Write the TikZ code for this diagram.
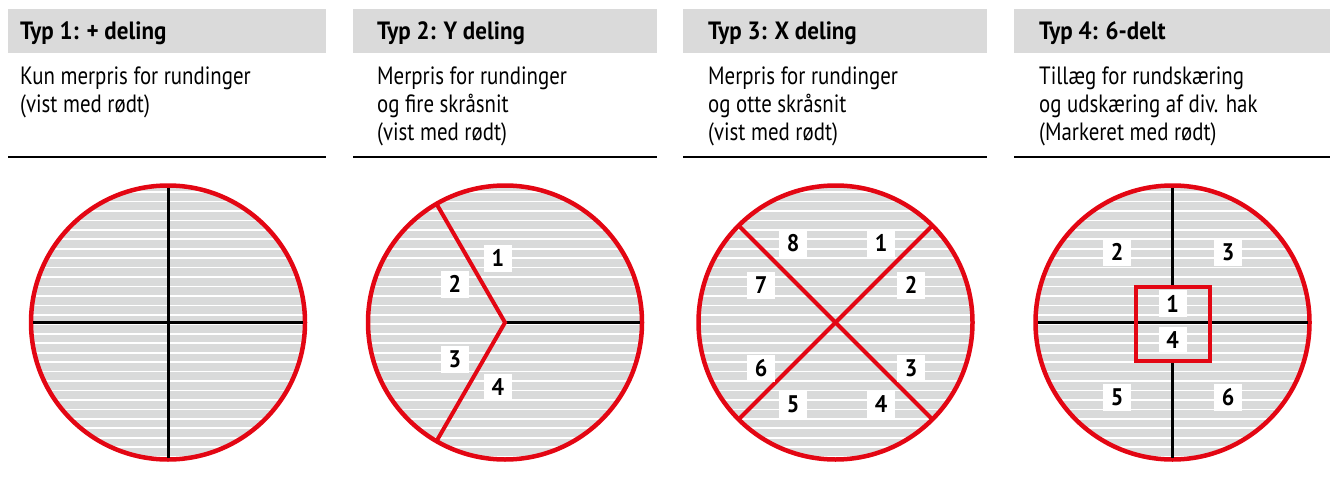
\documentclass[tikz,border=0pt]{standalone}
\usepackage{fontspec}
\setmainfont{PT Sans}[FakeStretch=0.835, BoldFeatures={FakeStretch=0.92}]
\usetikzlibrary{calc,positioning}
\definecolor{cutred}{HTML}{E30613}
\definecolor{headgray}{HTML}{DADADA}
\definecolor{discgray}{HTML}{D9DADA}
\tikzset{
  headbox/.style={fill=headgray},
  headtext/.style={anchor=base west, inner sep=0pt, font=\bfseries\fontsize{25}{28}\selectfont},
  desc/.style={anchor=north west, inner sep=0pt, align=left, font=\fontsize{25}{28}\selectfont},
  rule/.style={line width=1.7pt},
  disc/.style={circle, minimum size=274pt, inner sep=0pt, outer sep=0pt,
    fill=discgray, draw=cutred, line width=4.5pt,
    path picture={
      \foreach \k in {0,...,30}
        \draw[white, line width=1.7pt]
          ([yshift={(\k-15)*9.45pt-1.8pt}]path picture bounding box.west) --
          ([yshift={(\k-15)*9.45pt-1.8pt}]path picture bounding box.east);
    }},
  divline/.style={line width=3pt, shorten <=2pt, shorten >=2pt},
  cutline/.style={draw=cutred, line width=4pt},
  holebox/.style={minimum size=74pt, inner sep=0pt, outer sep=0pt},
  numbox/.style={fill=white, minimum width=28pt, minimum height=27pt, inner sep=0pt,
    font=\bfseries\fontsize{24}{24}\selectfont},
}

\begin{document}
\begin{tikzpicture}[x=1pt, y=-1pt]
  \useasboundingbox (0,0) rectangle (1330,484);

  % header bars and rules
  \fill[headbox] (8,9) rectangle (326,53);
  \fill[headbox] (353,9) rectangle (657,53);
  \fill[headbox] (683,9) rectangle (987,53);
  \fill[headbox] (1014,9) rectangle (1330,53);
  \draw[rule] (8,157) -- (326,157);
  \draw[rule] (353,157) -- (657,157);
  \draw[rule] (683,157) -- (987,157);
  \draw[rule] (1014,157) -- (1330,157);

  \node[headtext] (h1) at (20,39.5) {Typ 1: + deling};
  \node[headtext] (h2) at (377,39.5) {Typ 2: Y deling};
  \node[headtext] (h3) at (708,39.5) {Typ 3: X deling};
  \node[headtext] (h4) at (1039,39.5) {Typ 4: 6-delt};

  \node[desc] (d1) at (20,67) {Kun merpris for rundinger\\(vist med rødt)};
  \node[desc] (d2) at (377,67) {Merpris for rundinger\\og fire skråsnit\\(vist med rødt)};
  \node[desc] (d3) at (708,67) {Merpris for rundinger\\og otte skråsnit\\(vist med rødt)};
  \node[desc] (d4) at (1039,67) {Tillæg for rundskæring\\og udskæring af div. hak\\(Markeret med rødt)};

  % Typ 1
  \node[disc] (c1) at (168,322.5) {};
  \draw[divline] (c1.north) -- (c1.south);
  \draw[divline] (c1.west) -- (c1.east);

  % Typ 2
  \node[disc] (c2) at (505,322.5) {};
  \draw[divline, shorten <=0pt] (c2.center) -- (c2.east);
  \draw[cutline] (c2.120) -- (c2.center) -- (c2.240);
  \foreach \lbl/\dx/\dy in {1/-7/-64.5, 2/-50/-38.5, 3/-50/36.5, 4/-7/64.5}
    \node[numbox] (y\lbl) at ($(c2)+(\dx,\dy)$) {\lbl};

  % Typ 3
  \node[disc] (c3) at (835.5,322.5) {};
  \draw[cutline] (c3.135) -- (c3.315);
  \draw[cutline] (c3.45) -- (c3.225);
  \foreach \lbl/\dx/\dy in {8/-42.5/-79.5, 1/45.5/-79.5, 7/-74.5/-37.5, 2/75.5/-37.5,
                            6/-74.5/45.5, 3/75.5/45.5, 5/-42.5/81.5, 4/45.5/81.5}
    \node[numbox] (x\lbl) at ($(c3)+(\dx,\dy)$) {\lbl};

  % Typ 4
  \node[disc] (c4) at (1172.5,322.5) {};
  \node[holebox] (hole) at ($(c4)+(0,1)$) {};
  \draw[divline, shorten >=0pt] (c4.north) -- (hole.north);
  \draw[divline, shorten <=0pt] (hole.south) -- (c4.south);
  \draw[divline] (c4.west) -- (c4.east);
  \draw[cutline] (hole.north west) rectangle (hole.south east);
  \foreach \lbl/\dx/\dy in {2/-55.5/-70.5, 3/55.5/-70.5, 1/0/-19,
                            4/0/17.5, 5/-55.5/74.5, 6/55.5/74.5}
    \node[numbox] (s\lbl) at ($(c4)+(\dx,\dy)$) {\lbl};
\end{tikzpicture}
\end{document}
